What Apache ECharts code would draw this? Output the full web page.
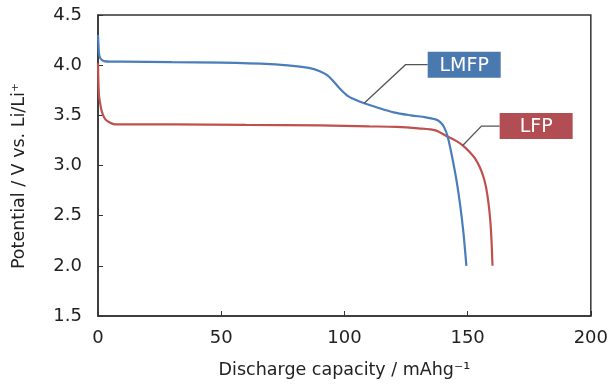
<!DOCTYPE html>
<html>
<head>
<meta charset="utf-8">
<script src="https://cdn.jsdelivr.net/npm/echarts@6/dist/echarts.min.js"></script>
<style>html,body{margin:0;padding:0;background:#fff}#c{width:611px;height:385px}</style>
</head>
<body>
<div id="c"></div>
<script>
// Data
var capLMFP = [0, 0.2, 0.5, 1.2, 2.5, 5, 10, 30, 50, 70, 80, 86, 90, 93, 95.5, 98, 101, 104, 108, 113, 120, 127, 133, 137, 139, 140.5, 142, 144, 145.5, 147, 148.3, 149.5];
var vLMFP   = [4.30, 4.20, 4.10, 4.06, 4.04, 4.035, 4.035, 4.03, 4.025, 4.01, 3.99, 3.97, 3.94, 3.90, 3.84, 3.77, 3.70, 3.66, 3.62, 3.58, 3.53, 3.50, 3.48, 3.46, 3.43, 3.38, 3.28, 3.05, 2.85, 2.60, 2.33, 2.00];
var capLFP = [0, 0.15, 0.4, 0.8, 1.4, 2.1, 3, 4, 5.5, 7, 10, 30, 60, 90, 110, 121, 130, 137, 141, 145, 148, 151, 153, 155, 156.5, 157.5, 158.5, 159.2, 159.7, 160.1];
var vLFP   = [4.02, 3.85, 3.70, 3.63, 3.55, 3.50, 3.46, 3.44, 3.42, 3.41, 3.41, 3.41, 3.405, 3.40, 3.39, 3.385, 3.37, 3.35, 3.30, 3.25, 3.20, 3.13, 3.07, 2.98, 2.88, 2.78, 2.62, 2.45, 2.25, 2.00];
var xTicks = [0, 50, 100, 150, 200];
var yTicks = [1.5, 2.0, 2.5, 3.0, 3.5, 4.0, 4.5];
var seriesNames = ['LMFP', 'LFP'];
var xTitle = 'Discharge capacity / mAhg\u207B\u00B9';
var yTitle = 'Potential / V vs. Li/Li\u207A';
// annotation anchors in data space: [curve point, elbow, box-left]
var annLMFP = [[108, 3.62], [124.8, 4.005], [133.8, 4.005]];
var annLFP  = [[148, 3.20], [155.6, 3.393], [163, 3.393]];

function pairs(xs, ys){ return xs.map(function(x,i){ return [x, ys[i]]; }); }

var FONT = 'DejaVu Sans';
var blue = '#4a7dba', red = '#c0504d';
var blueBox = '#4a79af', redBox = '#b24d53';

var chart = echarts.init(document.getElementById('c'), null, {renderer: 'canvas'});
var axisCol = '#333';
chart.setOption({
  animation: false,
  grid: {left: 98, right: 15, top: 15, bottom: 69, show: true, borderColor: axisCol, borderWidth: 1.5, backgroundColor: 'transparent'},
  xAxis: {
    type: 'value', min: xTicks[0], max: xTicks[xTicks.length-1], interval: 50,
    name: xTitle, nameLocation: 'middle', nameGap: 45,
    nameTextStyle: {fontFamily: FONT, fontSize: 17.5, color: '#222'},
    axisLine: {show: true, lineStyle: {color: axisCol, width: 1.5}},
    axisTick: {show: true, inside: true, length: 5, lineStyle: {color: axisCol, width: 1}},
    axisLabel: {fontFamily: FONT, fontSize: 18, color: '#222', margin: 13},
    splitLine: {show: false}
  },
  yAxis: {
    type: 'value', min: yTicks[0], max: yTicks[yTicks.length-1], interval: 0.5,
    name: yTitle, nameLocation: 'middle', nameGap: 70, nameRotate: 90,
    nameTextStyle: {fontFamily: FONT, fontSize: 17.5, color: '#222', padding: [0, 21, 0, 0]},
    axisLine: {show: true, lineStyle: {color: axisCol, width: 1.5}},
    axisTick: {show: true, inside: true, length: 5, lineStyle: {color: axisCol, width: 1}},
    axisLabel: {fontFamily: FONT, fontSize: 18, color: '#222', margin: 16, formatter: function(v){ return v.toFixed(1); }},
    splitLine: {show: false}
  },
  series: [
    {name: seriesNames[0], type: 'line', data: pairs(capLMFP, vLMFP), showSymbol: false, smooth: 0.3, lineStyle: {color: blue, width: 2.2}, itemStyle: {color: blue}, z: 3},
    {name: seriesNames[1], type: 'line', data: pairs(capLFP, vLFP), showSymbol: false, smooth: 0.3, lineStyle: {color: red, width: 2.2}, itemStyle: {color: red}, z: 2}
  ]
});

function annotation(ann, label, fill){
  var p0 = chart.convertToPixel({gridIndex: 0}, ann[0]);
  var p1 = chart.convertToPixel({gridIndex: 0}, ann[1]);
  var p2 = chart.convertToPixel({gridIndex: 0}, ann[2]);
  var w = 73, h = 26;
  return [
    {type: 'polyline', shape: {points: [p0, p1, p2]}, style: {stroke: '#555', lineWidth: 1.3, fill: null}, z: 10},
    {type: 'rect', shape: {x: p2[0], y: p2[1] - h/2, width: w, height: h}, style: {fill: fill}, z: 11},
    {type: 'text', x: p2[0] + w/2, y: p2[1] + 1, style: {text: label, fill: '#fff', font: '19px "' + FONT + '"', align: 'center', verticalAlign: 'middle'}, z: 12}
  ];
}
chart.setOption({graphic: annotation(annLMFP, seriesNames[0], blueBox).concat(annotation(annLFP, seriesNames[1], redBox))});
</script>
</body>
</html>
